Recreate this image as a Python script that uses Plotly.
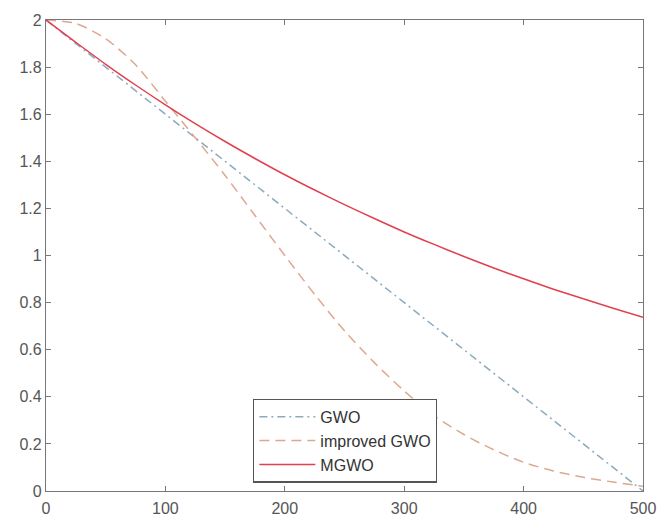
import plotly.graph_objects as go

# Iterations
t_gwo = [0, 100, 200, 300, 400, 500]
a_gwo = [2.0, 1.6, 1.2, 0.8, 0.4, 0.0]

t_curve = [0, 25, 50, 75, 100, 125, 150, 175, 200, 225, 250,
           275, 300, 325, 350, 375, 400, 425, 450, 475, 500]
a_improved = [2.00, 1.985, 1.92, 1.81, 1.655, 1.50, 1.34, 1.17, 1.00, 0.835, 0.68,
              0.545, 0.425, 0.32, 0.24, 0.175, 0.122, 0.085, 0.058, 0.038, 0.02]
a_mgwo = [2.00, 1.905, 1.812, 1.724, 1.64, 1.56, 1.484, 1.412, 1.343, 1.278, 1.216,
          1.157, 1.10, 1.047, 0.996, 0.947, 0.901, 0.857, 0.816, 0.776, 0.738]

x_ticks = [0, 100, 200, 300, 400, 500]
y_ticks = [0, 0.2, 0.4, 0.6, 0.8, 1, 1.2, 1.4, 1.6, 1.8, 2]
y_tick_labels = ["0", "0.2", "0.4", "0.6", "0.8", "1", "1.2", "1.4", "1.6", "1.8", "2"]

fig = go.Figure()
fig.add_trace(go.Scatter(x=t_gwo, y=a_gwo, mode="lines", name="GWO",
                         line=dict(color="#8aabbd", width=1.5, dash="8px,4px,2px,4px")))
fig.add_trace(go.Scatter(x=t_curve, y=a_improved, mode="lines", name="improved GWO",
                         line=dict(color="#dca88f", width=1.5, dash="10px,6px", shape="spline",
                                   smoothing=0.8)))
fig.add_trace(go.Scatter(x=t_curve, y=a_mgwo, mode="lines", name="MGWO",
                         line=dict(color="#e2404e", width=1.5, shape="spline", smoothing=0.8)))

axis_common = dict(showgrid=False, zeroline=False, showline=True, linecolor="#777777",
                   linewidth=1.2, mirror="ticks", ticks="inside", ticklen=5, automargin=False,
                   tickcolor="#777777", tickfont=dict(family="Liberation Sans, Arial", size=16,
                                                       color="#555555"))
fig.update_xaxes(range=[0, 500], tickvals=x_ticks, ticklabelstandoff=3, **axis_common)
fig.update_yaxes(range=[0, 2], tickvals=y_ticks, ticktext=y_tick_labels, **axis_common)

fig.update_layout(
    width=659, height=520,
    margin=dict(l=46, r=16, t=20, b=29),
    plot_bgcolor="white", paper_bgcolor="white",
    showlegend=True,
    legend=dict(x=0.347, y=0.196, xanchor="left", yanchor="top",
                bgcolor="white", bordercolor="#555555", borderwidth=1.2,
                font=dict(family="Liberation Sans, Arial", size=16, color="#333333"),
                itemwidth=56, tracegroupgap=0),
)

fig.write_html("out.html", config={"displayModeBar": False},
               post_script="document.body.style.margin='0';document.body.style.overflow='hidden';")
